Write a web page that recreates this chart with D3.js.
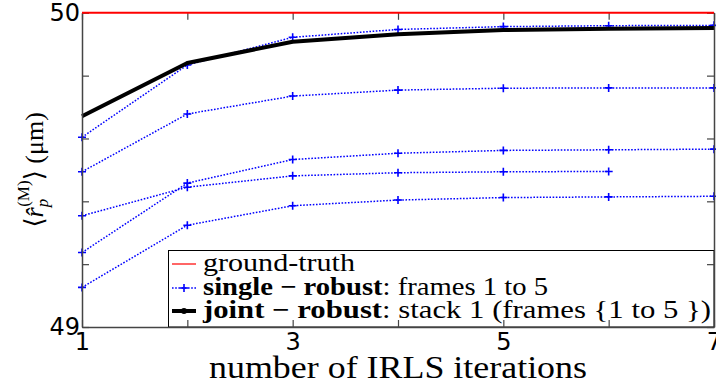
<!DOCTYPE html>
<html><head><meta charset="utf-8">
<script src="https://cdn.jsdelivr.net/npm/d3@7"></script>
<style>body{margin:0;background:#fff}</style>
</head><body>
<svg id="chart" width="716" height="385"></svg>
<script>
// IRLS convergence of the mean estimated radius
const iterations = [1, 2, 3, 4, 5, 6, 7];
const groundTruth = 50;
const jointRobust = [49.671, 49.840, 49.908, 49.932, 49.945, 49.949, 49.952];
const singleFrame1 = [49.604, 49.834, 49.922, 49.947, 49.956, 49.959, 49.960];
const singleFrame2 = [49.494, 49.678, 49.735, 49.754, 49.760, 49.761, 49.761];
const singleFrame3 = [49.354, 49.445, 49.481, 49.491, 49.494, 49.495];
const singleFrame4 = [49.237, 49.458, 49.533, 49.553, 49.562, 49.564, 49.566];
const singleFrame5 = [49.126, 49.324, 49.386, 49.404, 49.412, 49.414, 49.416];
const singleSeries = [singleFrame1, singleFrame2, singleFrame3, singleFrame4, singleFrame5];
const xTickValues = [1, 2, 3, 4, 5, 6, 7];
const xTickLabels = ["1", "", "3", "", "5", "", "7"];
const yTickValues = [49, 49.2, 49.4, 49.6, 49.8, 50];
const yTickLabels = ["49", "", "", "", "", "50"];
const legendLabels = [
  {bold: "", rest: "ground-truth", width: 152},
  {bold: "single \u2212 robust", rest: ": frames 1 to 5", width: 345},
  {bold: "joint \u2212 robust", rest: ": stack 1 (frames {1 to 5 })", width: 508}
];

const svg = d3.select("#chart");
const L = 82, R = 714, T = 12.8, B = 327;
const x = d3.scaleLinear().domain([1, 7]).range([L, R]);
const y = d3.scaleLinear().domain([49, 50]).range([B, T]);
const serif = "'Liberation Serif', 'DejaVu Serif', serif";
const tickFont = "'DejaVu Sans', sans-serif";

const line = d3.line().x((d, i) => x(iterations[i])).y(d => y(d));
const plot = svg.append("g");

// single-frame robust estimates: dotted blue with + markers
singleSeries.forEach(s => {
  plot.append("path").datum(s).attr("d", line)
    .attr("fill", "none").attr("stroke", "#0000ff").attr("stroke-width", 1.5)
    .attr("stroke-dasharray", "1.6,1.6");
  plot.selectAll(null).data(s).enter().append("path")
    .attr("d", (d, i) => `M${x(iterations[i]) - 4},${y(d)}h8M${x(iterations[i])},${y(d) - 4}v8`)
    .attr("stroke", "#0000ff").attr("stroke-width", 1.6);
});

// joint robust estimate: thick black
plot.append("path").datum(jointRobust).attr("d", line)
  .attr("fill", "none").attr("stroke", "#000").attr("stroke-width", 4)
  .attr("stroke-linejoin", "round");

// legend
const lg = svg.append("g");
lg.append("rect").attr("x", 168.5).attr("y", 250.5).attr("width", R - 168.5).attr("height", B - 250.5)
  .attr("fill", "#fff").attr("stroke", "#000").attr("stroke-width", 1);
const rowY = [264, 288, 311];
lg.append("line").attr("x1", 172).attr("x2", 196).attr("y1", rowY[0]).attr("y2", rowY[0])
  .attr("stroke", "#ff0000").attr("stroke-width", 1.2);
lg.append("line").attr("x1", 172).attr("x2", 196).attr("y1", rowY[1]).attr("y2", rowY[1])
  .attr("stroke", "#0000ff").attr("stroke-width", 1.5).attr("stroke-dasharray", "1.6,1.6");
lg.append("path").attr("d", `M180,${rowY[1]}h8M184,${rowY[1] - 4}v8`)
  .attr("stroke", "#0000ff").attr("stroke-width", 1.6);
lg.append("line").attr("x1", 172).attr("x2", 196).attr("y1", rowY[2]).attr("y2", rowY[2])
  .attr("stroke", "#000").attr("stroke-width", 4);
lg.append("circle").attr("cx", 184).attr("cy", rowY[2]).attr("r", 3).attr("fill", "#000");
legendLabels.forEach((lab, i) => {
  const t = lg.append("text").attr("x", 203).attr("y", rowY[i] + 7)
    .attr("font-family", serif).attr("font-size", 25).attr("fill", "#000")
    .attr("textLength", lab.width).attr("lengthAdjust", "spacingAndGlyphs");
  if (lab.bold) t.append("tspan").attr("font-weight", "bold").text(lab.bold);
  t.append("tspan").text(lab.rest);
});

// axes with inward ticks on all four sides
function styleAxis(g) {
  g.selectAll(".domain").attr("stroke", "#444").attr("stroke-width", 1.5);
  g.selectAll(".tick line").attr("stroke", "#444").attr("stroke-width", 1.2);
  g.selectAll("text").attr("font-family", tickFont).attr("font-size", 24).attr("fill", "#000");
}
svg.append("g").attr("transform", `translate(0,${B})`)
  .call(d3.axisBottom(x).tickValues(xTickValues).tickSizeInner(-7).tickSizeOuter(0).tickPadding(6)
    .tickFormat((d, i) => xTickLabels[i])).call(styleAxis);
svg.append("g").attr("transform", `translate(0,${T})`)
  .call(d3.axisTop(x).tickValues(xTickValues).tickSizeInner(-7).tickSizeOuter(0).tickFormat(""))
  .call(styleAxis).select(".domain").remove();
svg.append("g").attr("transform", `translate(${L},0)`)
  .call(d3.axisLeft(y).tickValues(yTickValues).tickSizeInner(-7).tickSizeOuter(0).tickPadding(2)
    .tickFormat((d, i) => yTickLabels[i])).call(styleAxis);
svg.append("g").attr("transform", `translate(${R},0)`)
  .call(d3.axisRight(y).tickValues(yTickValues).tickSizeInner(-7).tickSizeOuter(0).tickFormat(""))
  .call(styleAxis);

// ground truth, drawn over the top spine
svg.append("line").attr("x1", L).attr("x2", R)
  .attr("y1", y(groundTruth)).attr("y2", y(groundTruth))
  .attr("stroke", "#ff0000").attr("stroke-width", 2);

// axis titles
svg.append("text").attr("x", (L + R) / 2).attr("y", 378).attr("text-anchor", "middle")
  .attr("font-family", serif).attr("font-size", 31)
  .attr("textLength", 378).attr("lengthAdjust", "spacingAndGlyphs")
  .text("number of IRLS iterations");

const yl = svg.append("text").attr("transform", `translate(43,${(T + B) / 2}) rotate(-90)`)
  .attr("text-anchor", "middle").attr("font-family", serif).attr("font-size", 26);
yl.append("tspan").text("\u27E8");
yl.append("tspan").attr("font-style", "italic").text("r\u0302");
yl.append("tspan").attr("font-style", "italic").attr("font-size", 17).attr("dy", 5).text("p");
yl.append("tspan").attr("font-size", 17).attr("dy", -19).attr("dx", -8).text("(M)");
yl.append("tspan").attr("dy", 14).text("\u27E9 (\u03BCm)");
</script>
</body></html>
